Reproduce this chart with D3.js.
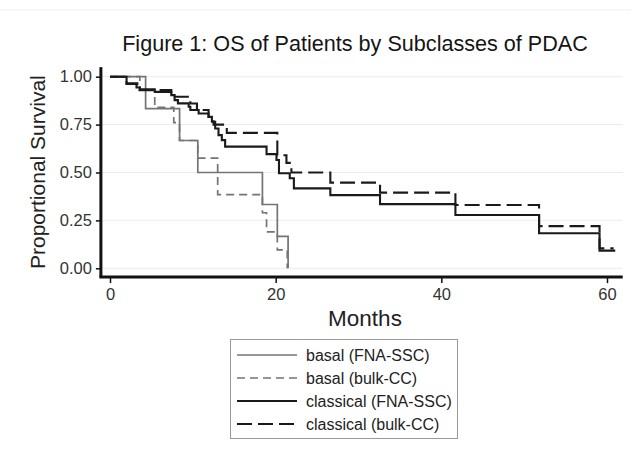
<!DOCTYPE html>
<html>
<head>
<meta charset="utf-8">
<script src="https://cdn.jsdelivr.net/npm/d3@7"></script>
<style>
  html, body { margin: 0; padding: 0; background: #fff; }
  svg { display: block; font-family: "Liberation Sans", Arial, sans-serif; }
</style>
</head>
<body>
<svg id="chart" width="631" height="463"></svg>
<script>
// Kaplan-Meier step curves: event times (months) and survival after each step
const basalFnaMonths = [0, 4.3, 8.4, 10.6, 18.4, 20.2, 21.5];
const basalFnaSurv   = [1, 0.833, 0.667, 0.5, 0.333, 0.167, 0];

const basalBulkMonths = [0, 3.6, 5.4, 7.7, 8.4, 10.6, 13.0, 18.4, 18.9, 20.2, 21.4];
const basalBulkSurv   = [1, 0.93, 0.84, 0.76, 0.667, 0.575, 0.385, 0.29, 0.19, 0.096, 0];

const classicalFnaMonths = [0, 2.0, 3.2, 3.6, 5.4, 7.4, 7.8, 8.2, 9.5, 9.7, 10.7, 11.9, 12.3, 12.7, 13.1, 13.5, 13.9,
                            18.9, 20.1, 20.4, 21.7, 22.2, 26.6, 32.6, 41.7, 51.8, 59.1, 61.0];
const classicalFnaSurv   = [1, 0.962, 0.944, 0.934, 0.921, 0.904, 0.878, 0.861, 0.843, 0.826, 0.808, 0.791, 0.765, 0.730, 0.695, 0.669, 0.635,
                            0.596, 0.565, 0.496, 0.47, 0.417, 0.382, 0.335, 0.278, 0.183, 0.092, 0.092];

const classicalBulkMonths = [0, 2.0, 3.3, 7.4, 9.7, 10.5, 11.9, 12.5, 14.1, 20.2, 21.3, 21.9, 26.6, 32.6, 41.7, 51.8, 59.1, 60.8];
const classicalBulkSurv   = [1, 0.965, 0.93, 0.895, 0.86, 0.826, 0.79, 0.75, 0.707, 0.59, 0.55, 0.50, 0.447, 0.395, 0.33, 0.22, 0.104, 0.104];

const seriesNames = ["basal (FNA-SSC)", "basal (bulk-CC)", "classical (FNA-SSC)", "classical (bulk-CC)"];
const yTicks = [0, 0.25, 0.5, 0.75, 1];
const xTicks = [0, 20, 40, 60];

const titleText = "Figure 1: OS of Patients by Subclasses of PDAC";
const yTitle = "Proportional Survival";
const xTitle = "Months";

const zip = (t, s) => t.map((d, i) => [d, s[i]]);
const series = [
  { name: seriesNames[0], pts: zip(basalFnaMonths, basalFnaSurv),   color: "#747474", width: 1.7, dash: null },
  { name: seriesNames[1], pts: zip(basalBulkMonths, basalBulkSurv), color: "#747474", width: 1.7, dash: "8,5" },
  { name: seriesNames[2], pts: zip(classicalFnaMonths, classicalFnaSurv),   color: "#1a1a1a", width: 2.1, dash: null },
  { name: seriesNames[3], pts: zip(classicalBulkMonths, classicalBulkSurv), color: "#1a1a1a", width: 2.1, dash: "15,6" }
];

const svg = d3.select("#chart");

const x = d3.scaleLinear().domain([0, 60]).range([110, 607]);
const y = d3.scaleLinear().domain([0, 1]).range([268.3, 76.7]);

const xLeft = x(-1.1), xRight = x(61.9);
const yTop = y(1.05), yBottom = y(-0.046);

// faint frame line at the top edge
svg.append("line").attr("x1", 0).attr("x2", 631).attr("y1", 10).attr("y2", 10)
  .attr("stroke", "#f1f1f1").attr("stroke-width", 1);

// horizontal grid
svg.append("g").selectAll("line").data(yTicks).join("line")
  .attr("x1", xLeft).attr("x2", xRight)
  .attr("y1", d => y(d)).attr("y2", d => y(d))
  .attr("stroke", "#ececec").attr("stroke-width", 1);

// survival curves
const line = d3.line().x(d => x(d[0])).y(d => y(d[1])).curve(d3.curveStepAfter);
svg.append("g").selectAll("path").data(series).join("path")
  .attr("d", d => line(d.pts))
  .attr("fill", "none")
  .attr("stroke", d => d.color)
  .attr("stroke-width", d => d.width)
  .attr("stroke-dasharray", d => d.dash);

// y axis
const yAxis = svg.append("g").attr("transform", `translate(${xLeft},0)`)
  .call(d3.axisLeft(y).tickValues(yTicks).tickFormat(d3.format(".2f")).tickSize(5).tickPadding(4));
yAxis.select(".domain").remove();
yAxis.selectAll(".tick line").attr("stroke", "#111").attr("stroke-width", 1.5);
yAxis.selectAll(".tick text").attr("font-size", 16.5).attr("fill", "#333")
  .attr("font-family", "Liberation Sans, Arial, sans-serif");
svg.append("line").attr("x1", xLeft).attr("x2", xLeft).attr("y1", yTop).attr("y2", yBottom)
  .attr("stroke", "#111").attr("stroke-width", 3);

// x axis
const xAxis = svg.append("g").attr("transform", `translate(0,${yBottom})`)
  .call(d3.axisBottom(x).tickValues(xTicks).tickFormat(d3.format("d")).tickSize(6).tickPadding(5));
xAxis.select(".domain").remove();
xAxis.selectAll(".tick line").attr("stroke", "#111").attr("stroke-width", 1.5);
xAxis.selectAll(".tick text").attr("font-size", 16.5).attr("fill", "#333")
  .attr("font-family", "Liberation Sans, Arial, sans-serif");
svg.append("line").attr("x1", xLeft - 1.5).attr("x2", xRight).attr("y1", yBottom).attr("y2", yBottom)
  .attr("stroke", "#111").attr("stroke-width", 3);

// titles
svg.append("text").attr("x", 355).attr("y", 51).attr("text-anchor", "middle")
  .attr("font-size", 21.6).attr("fill", "#151515").text(titleText);
svg.append("text").attr("transform", `translate(45,${(yTop + yBottom) / 2}) rotate(-90)`)
  .attr("text-anchor", "middle").attr("font-size", 21).attr("fill", "#222").text(yTitle);
svg.append("text").attr("x", 365).attr("y", 326).attr("text-anchor", "middle")
  .attr("font-size", 22.5).attr("fill", "#222").text(xTitle);

// legend
const lg = svg.append("g");
lg.append("rect").attr("x", 230.5).attr("y", 339.5).attr("width", 227).attr("height", 99)
  .attr("fill", "#fff").attr("stroke", "#999").attr("stroke-width", 1);
const rows = lg.selectAll("g.row").data(series).join("g").attr("class", "row")
  .attr("transform", (d, i) => `translate(0,${355 + i * 23})`);
rows.append("line").attr("x1", 237).attr("x2", 297).attr("y1", 0).attr("y2", 0)
  .attr("stroke", d => d.color).attr("stroke-width", d => d.width)
  .attr("stroke-dasharray", d => d.dash);
rows.append("text").attr("x", 306).attr("y", 5.5).attr("font-size", 16).attr("fill", "#222")
  .text(d => d.name);
</script>
</body>
</html>
